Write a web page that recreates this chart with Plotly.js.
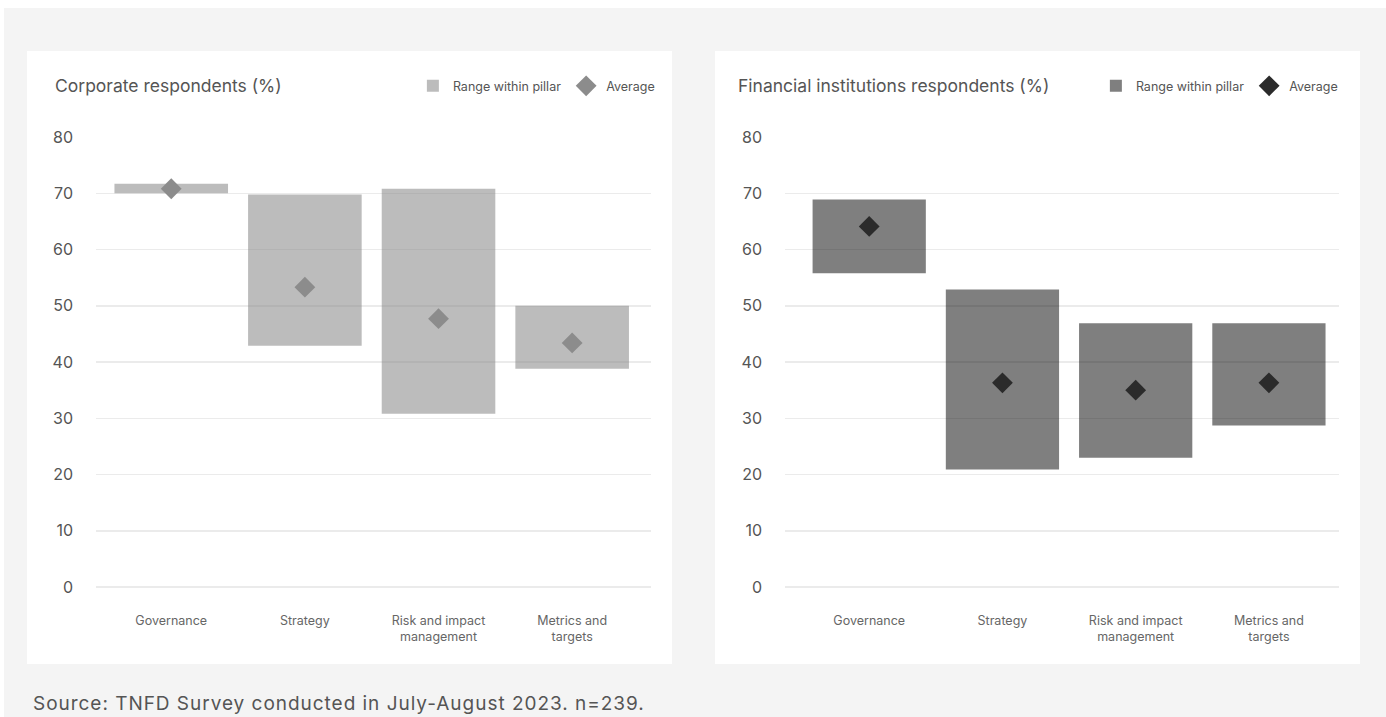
<!DOCTYPE html>
<html><head><meta charset="utf-8">
<script src="https://cdn.plot.ly/plotly-3.0.1.min.js"></script>
<style>
html,body{margin:0;padding:0;background:#fff;width:1386px;height:717px;overflow:hidden;}
#bg{position:absolute;left:4px;top:8px;width:1382px;height:709px;background:#f4f4f4;}
#corp{position:absolute;left:27px;top:51px;width:645px;height:613px;}
#fin{position:absolute;left:715px;top:51px;width:645px;height:613px;}
#src{position:absolute;left:33px;top:692px;font-family:Inter,Roboto,'Liberation Sans',sans-serif;font-size:19px;letter-spacing:0.97px;color:#555;white-space:nowrap;}
</style></head><body>
<div id="bg"></div>
<div id="corp"></div>
<div id="fin"></div>
<div id="src">Source: TNFD Survey conducted in July-August 2023. n=239.</div>
<script>
const categories = ['Governance', 'Strategy', 'Risk and impact<br>management', 'Metrics and<br>targets'];
const corpLow  = [70.0, 42.9, 30.8, 38.8];
const corpHigh = [71.7, 69.8, 70.8, 50.0];
const corpAvg  = [70.8, 53.3, 47.7, 43.4];
const finLow   = [55.8, 20.9, 23.0, 28.7];
const finHigh  = [68.9, 52.9, 46.9, 46.9];
const finAvg   = [64.1, 36.3, 35.0, 36.3];
const yTickVals = [0, 10, 20, 30, 40, 50, 60, 70, 80];
const corpTitle = 'Corporate respondents (%)';
const finTitle = 'Financial institutions respondents (%)';
const legendRange = 'Range within pillar';
const legendAvg = 'Average';

const FONT = "Inter, Roboto, 'Liberation Sans', sans-serif";

function makeChart(div, title, low, high, avg, barColor, diaColor, xr, ml, mr, titleX, legX) {
  const spans = high.map((h, i) => h - low[i]);
  const traces = [
    {type: 'bar', x: categories, y: spans, base: low, name: legendRange,
     marker: {color: barColor, line: {width: 0}}, width: 0.85, hoverinfo: 'skip'},
    {type: 'scatter', mode: 'markers', x: categories, y: avg, name: legendAvg,
     marker: {symbol: 'diamond', size: 16, color: diaColor, line: {width: 0}}, hoverinfo: 'skip'}
  ];
  const layout = {
    width: 645, height: 613,
    paper_bgcolor: '#ffffff', plot_bgcolor: '#ffffff',
    margin: {l: ml, r: mr, t: 86, b: 77, pad: 0},
    font: {family: FONT, color: '#555'},
    title: {text: title, xref: 'container', x: titleX / 645, xanchor: 'left',
            yref: 'container', y: 1 - 35 / 613, yanchor: 'middle',
            font: {family: FONT, size: 17.5, color: '#555'}},
    showlegend: true,
    legend: {orientation: 'h', x: legX, xanchor: 'right', y: 1.113, yanchor: 'middle',
             font: {family: FONT, size: 12.5, color: '#555'}, itemwidth: 30,
             bgcolor: 'rgba(0,0,0,0)', traceorder: 'normal'},
    xaxis: {type: 'category', range: xr, showgrid: false, zeroline: false, showline: false,
            ticks: '', tickfont: {family: FONT, size: 12.5, color: '#666'}, ticklabelstandoff: 24,
            fixedrange: true},
    yaxis: {range: [0, 80], tickvals: yTickVals, showgrid: true, gridcolor: '#ebebeb', gridwidth: 1.5,
            zeroline: true, zerolinecolor: '#ebebeb', zerolinewidth: 1.5, showline: false, ticks: '',
            tickfont: {family: FONT, size: 16, color: '#555'}, ticklabelstandoff: 22, fixedrange: true},
    bargap: 0.15
  };
  Plotly.newPlot(div, traces, layout, {displayModeBar: false, staticPlot: true});
}

makeChart('corp', corpTitle, corpLow, corpHigh, corpAvg, 'rgba(128,128,128,0.53)', '#8c8c8c', [-0.563, 3.59], 69, 21, 28, 1.016);
makeChart('fin', finTitle, finLow, finHigh, finAvg, 'rgba(0,0,0,0.5)', '#2b2b2b', [-0.632, 3.526], 70, 21, 23, 1.007);
</script>
</body></html>
